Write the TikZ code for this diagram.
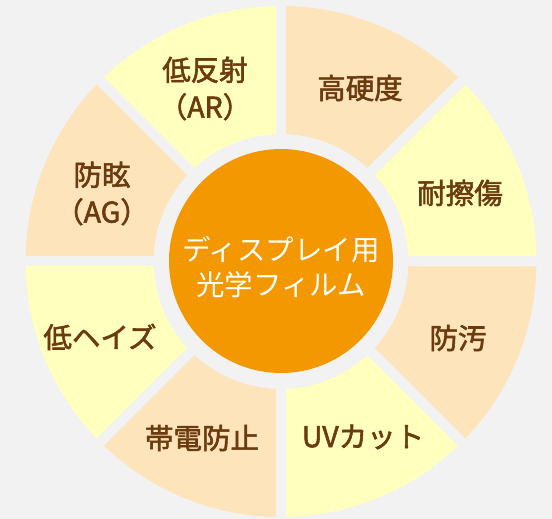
\documentclass[tikz,border=0pt]{standalone}
\usepackage{fontspec}
\newfontfamily\jpfont{Noto Sans CJK JP}
\newfontfamily\jpmed{Noto Sans CJK JP}[FakeBold=2]
\definecolor{bgc}{HTML}{F2F2F2}
\definecolor{ylw}{HTML}{FFFFBE}
\definecolor{pch}{HTML}{FDE4BB}
\definecolor{org}{HTML}{F39800}
\definecolor{brn}{HTML}{6B3A0E}
\begin{document}
\begin{tikzpicture}[x=1pt,y=1pt,
  lab/.style={font=\jpmed\fontsize{28.5}{37}\selectfont, text=brn, align=center, inner sep=0pt},
  coretext/.style={font=\jpfont\fontsize{28.5}{35}\selectfont, text=white, align=center, inner sep=0pt},
  gap/.style={bgc, line width=10pt}]
\fill[bgc] (0,0) rectangle (552,519);
\useasboundingbox (0,0) rectangle (552,519);
\begin{scope}[shift={(281,257.5)}]
\foreach \a/\c in {0/ylw,45/pch,90/ylw,135/pch,180/ylw,225/pch,270/ylw,315/pch}{
  \pgfmathsetmacro\b{\a+45}
  \fill[\c] (\a:127.5) -- (\a:255.5) arc[start angle=\a, end angle=\b, radius=255.5] -- (\b:127.5) arc[start angle=\b, end angle=\a, radius=127.5] -- cycle;
}
\foreach \a in {0,45,...,315}{
  \draw[gap] (0,0) -- (\a:262);
}
\node[circle, fill=org, minimum size=224pt, inner sep=0pt] (core) at (0,0.5) {};
\end{scope}
\node[coretext] (coret) at (281,251.5) {ディスプレイ用\\光学フィルム};
\node[lab] (l1) at (460,326) {耐擦傷};
\node[lab] (l2) at (360,431) {高硬度};
\node[lab] (l3) at (205,430.5) {低反射\\（AR）};
\node[lab] (l4) at (102,325.5) {防眩\\（AG）};
\node[lab] (l5) at (100,182) {低ヘイズ};
\node[lab] (l6) at (202,81) {帯電防止};
\node[lab] (l7) at (363,82) {UVカット};
\node[lab] (l8) at (458,181) {防汚};
\end{tikzpicture}
\end{document}
